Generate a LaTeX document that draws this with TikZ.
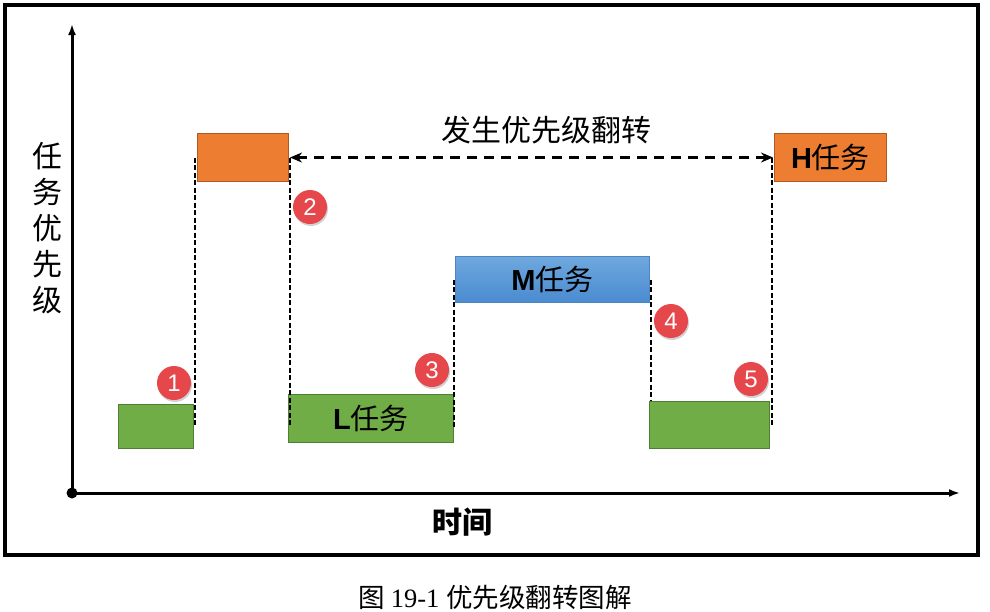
\documentclass[tikz,border=0pt]{standalone}
\usepackage{fontspec}
\setmainfont{Liberation Sans}
\newfontfamily\cjk{Noto Sans CJK SC}
\newfontfamily\capserif{Liberation Serif}
\usetikzlibrary{arrows.meta,shadows,calc}
\definecolor{org}{HTML}{ED7D31}
\definecolor{orgd}{HTML}{AE5A21}
\definecolor{grn}{HTML}{70AD47}
\definecolor{grnd}{HTML}{507E32}
\definecolor{bluet}{HTML}{6EA8DE}
\definecolor{blueb}{HTML}{4A8BD0}
\definecolor{bluebd}{HTML}{4F86C0}
\definecolor{bdg}{HTML}{E5474B}
\tikzset{
  box/.style={draw, line width=1pt, anchor=north west, inner sep=0pt,
    font=\fontsize{29}{32}\selectfont},
  obox/.style={box, fill=org, draw=orgd},
  gbox/.style={box, fill=grn, draw=grnd},
  mbox/.style={box, top color=bluet, bottom color=blueb, draw=bluebd},
  dl/.style={line width=2.8pt, dash pattern=on 5pt off 2.5pt},
  axisline/.style={line width=3pt, -{Latex[length=11pt,width=8pt]}},
  badge/.style={circle, fill=bdg, text=white, minimum size=34pt, inner sep=0pt,
    font=\fontsize{24}{26}\selectfont,
    drop shadow={shadow xshift=1pt, shadow yshift=-2pt, opacity=0.35}},
  lbl/.style={font=\fontsize{30}{36}\selectfont\cjk}
}
\begin{document}
\begin{tikzpicture}[x=1pt,y=-1pt]
\useasboundingbox (0,0) rectangle (990,611);
\fill[white] (0,0) rectangle (990,611);
\draw[line width=3.5pt] (5,5) rectangle (978,555);
% axes
\coordinate (O) at (72,493);
\coordinate (ytop) at (72,24);
\coordinate (xend) at (960,493);
\draw[axisline] (O) -- (ytop);
\draw[axisline] (O) -- (xend);
\fill (O) circle (5.5);
% labels
\node[lbl, align=center] (ylab) at (47,228) {任\\务\\优\\先\\级};
\node[lbl] (xlab) at (462,522) {\bfseries 时间};
\node[font=\fontsize{30}{32}\selectfont\cjk] (inv) at (546,130) {发生优先级翻转};
\node[font=\fontsize{26.5}{28}\selectfont] (cap) at (495,597) {\cjk 图\ \capserif 19-1 \cjk 优先级翻转图解};
% boxes
\node[gbox, minimum width=75pt, minimum height=44pt] (g1) at (118,404) {};
\node[obox, minimum width=91pt, minimum height=48pt] (o1) at (197,133) {};
\node[gbox, minimum width=165pt, minimum height=48pt] (Lb) at (288,394) {\bfseries L\cjk\mdseries 任务};
\node[mbox, minimum width=194pt, minimum height=46pt] (Mb) at (455,256) {\bfseries M\cjk\mdseries 任务};
\node[gbox, minimum width=120pt, minimum height=47pt] (g2) at (649,401) {};
\node[obox, minimum width=112pt, minimum height=48pt] (Hb) at (774,133) {\bfseries H\cjk\mdseries 任务};
% dashed lines
\draw[dl] ([xshift=-2pt]o1.west) -- ([xshift=-2pt]o1.west |- g1.east);
\draw[dl] ([xshift=1pt]o1.east) -- ($([xshift=1pt]o1.east |- Lb.west)+(0,6)$);
\draw[dl] ([xshift=-1pt]Mb.west) -- ($([xshift=-1pt]Mb.west |- Lb.east)+(0,9)$);
\draw[dl] ([xshift=1pt]Mb.east) -- ([xshift=1pt]Mb.east |- g2.north);
\draw[dl] ([xshift=-2pt]Hb.west) -- ([xshift=-2pt]Hb.west |- g2.east);
\draw[line width=3pt, dash pattern=on 10pt off 7pt, {Stealth[length=12pt,width=10pt]}-{Stealth[length=12pt,width=10pt]}] ([xshift=1pt]o1.east) -- ([xshift=-1pt]Hb.west);
% badges
\node[badge] (b1) at (174,383) {1};
\node[badge] (b2) at (310,207) {2};
\node[badge] (b3) at (432,370) {3};
\node[badge] (b4) at (671,321) {4};
\node[badge] (b5) at (751,379) {5};
\end{tikzpicture}
\end{document}
